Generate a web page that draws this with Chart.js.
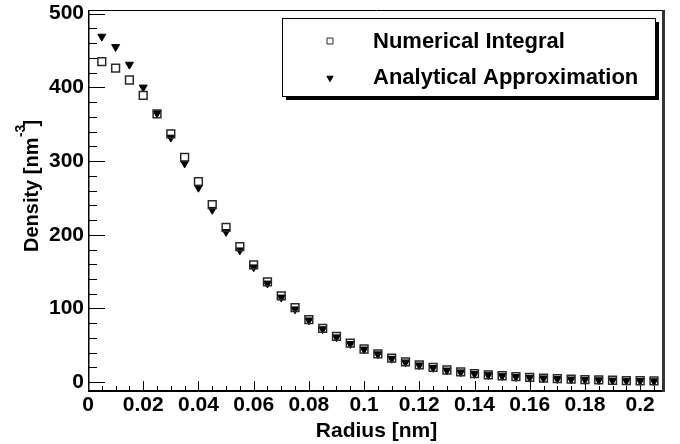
<!DOCTYPE html>
<html>
<head>
<meta charset="utf-8">
<script src="https://cdn.jsdelivr.net/npm/chart.js@4.4.1/dist/chart.umd.min.js"></script>
<style>
html,body{margin:0;padding:0;background:#fff;}
#c{display:block;}
</style>
</head>
<body>
<canvas id="c" width="680" height="444"></canvas>
<script>
// ---- data ----
const radius = [0.005,0.010,0.015,0.020,0.025,0.030,0.035,0.040,0.045,0.050,
                0.055,0.060,0.065,0.070,0.075,0.080,0.085,0.090,0.095,0.100,
                0.105,0.110,0.115,0.120,0.125,0.130,0.135,0.140,0.145,0.150,
                0.155,0.160,0.165,0.170,0.175,0.180,0.185,0.190,0.195,0.200,0.205];
const numericalIntegral = [435,426,410,389,364,337,305,272,241,210,
                           184,159,136,117,101,85,73,62,53,45,
                           38.5,32.5,27.5,23.5,20,16.5,14,11.5,10,8.7,
                           7.5,6.5,5.6,4.8,4.1,3.5,3.0,2.6,2.2,1.9,1.6];
const analyticalApprox = [469,455,431,400,365,332,297,264,234,204,
                          179,156,134,115,99,84,72,61,52,44.5,
                          38,32,27,23,19.5,16,13.5,11.3,9.7,8.4,
                          7.2,6.2,5.3,4.5,3.9,3.3,2.8,2.4,2.0,1.7,1.4];
const seriesNames = ['Numerical Integral', 'Analytical Approximation'];
const xTickValues = [0,0.02,0.04,0.06,0.08,0.1,0.12,0.14,0.16,0.18,0.2];
const xTickLabels = ['0','0.02','0.04','0.06','0.08','0.1','0.12','0.14','0.16','0.18','0.2'];
const yTickValues = [0,100,200,300,400,500];
const yTickLabels = ['0','100','200','300','400','500'];
const xTitle = 'Radius [nm]';
const yTitleParts = ['Density [nm', '-3', ']'];

const FONT = '"Liberation Sans", Arial, Helvetica, sans-serif';

const toPoints = (xs, ys) => xs.map((v, i) => ({x: v, y: ys[i]}));

// frame + inward ticks (ROOT style)
const frameAndTicks = {
  id: 'frameAndTicks',
  beforeDatasetsDraw(chart) {
    const {ctx, chartArea: a, scales: {x, y}} = chart;
    ctx.save();
    ctx.strokeStyle = '#000';
    ctx.lineWidth = 1;
    ctx.beginPath();
    const xMinorStep = 0.005, yMinorStep = 20;
    for (let i = 0; i * xMinorStep <= x.max + 1e-9; i++) {
      const v = i * xMinorStep;
      const px = Math.round(x.getPixelForValue(v)) + 0.5;
      const major = i % 4 === 0;
      ctx.moveTo(px, a.bottom);
      ctx.lineTo(px, a.bottom - (major ? 10 : 5));
    }
    for (let i = 0; i * yMinorStep <= y.max + 1e-9; i++) {
      const v = i * yMinorStep;
      const py = Math.round(y.getPixelForValue(v)) + 0.5;
      const major = i % 5 === 0;
      ctx.moveTo(a.left, py);
      ctx.lineTo(a.left + (major ? 17 : 9), py);
    }
    ctx.stroke();
    // frame
    ctx.lineWidth = 1;
    ctx.beginPath();
    ctx.moveTo(a.left, a.top + 0.5); ctx.lineTo(a.right, a.top + 0.5);
    ctx.stroke();
    ctx.lineWidth = 1.5;
    ctx.beginPath();
    ctx.moveTo(a.left + 0.75, a.top); ctx.lineTo(a.left + 0.75, a.bottom + 1);
    ctx.stroke();
    ctx.lineWidth = 2;
    ctx.beginPath();
    ctx.moveTo(a.left, a.bottom); ctx.lineTo(a.right, a.bottom);
    ctx.stroke();
    ctx.lineWidth = 3;
    ctx.strokeStyle = '#333';
    ctx.beginPath();
    ctx.moveTo(a.right - 1.5, a.top); ctx.lineTo(a.right - 1.5, a.bottom + 1);
    ctx.stroke();
    ctx.restore();
  }
};

// y title with superscript
const yTitlePlugin = {
  id: 'yTitlePlugin',
  afterDraw(chart) {
    const ctx = chart.ctx;
    ctx.save();
    ctx.translate(38, 252);
    ctx.rotate(-Math.PI / 2);
    ctx.fillStyle = '#000';
    ctx.textBaseline = 'alphabetic';
    ctx.textAlign = 'left';
    ctx.font = 'bold 20px ' + FONT;
    ctx.fillText(yTitleParts[0], 0, 0);
    const w0 = ctx.measureText(yTitleParts[0]).width;
    ctx.font = 'bold 14px ' + FONT;
    ctx.fillText(yTitleParts[1], w0 + 0.5, -13);
    const w1 = ctx.measureText(yTitleParts[1]).width;
    ctx.font = 'bold 20px ' + FONT;
    ctx.fillText(yTitleParts[2], w0 + w1 - 1.5, 0);
    ctx.restore();
  }
};

// ROOT-like legend box with shadow
const legendBox = {
  id: 'legendBox',
  afterDraw(chart) {
    const ctx = chart.ctx;
    const bx = 282, by = 18, bw = 373, bh = 78, sh = 4;
    ctx.save();
    ctx.fillStyle = '#000';
    ctx.fillRect(bx + sh, by + sh, bw, bh);
    ctx.fillStyle = '#fff';
    ctx.fillRect(bx, by, bw, bh);
    ctx.strokeStyle = '#000';
    ctx.lineWidth = 1;
    ctx.strokeRect(bx + 0.5, by + 0.5, bw, bh);
    const rows = [{y: 41, base: 47.5}, {y: 78, base: 84}];
    chart.data.datasets.forEach((ds, i) => {
      ctx.fillStyle = ds.backgroundColor;
      ctx.strokeStyle = ds.borderColor;
      ctx.lineWidth = 1;
      Chart.helpers.drawPoint(ctx, {
        pointStyle: ds.pointStyle,
        rotation: ds.rotation || 0,
        radius: i === 0 ? 4.2 : 3.6,
        borderWidth: 1
      }, 330, rows[i].y);
      ctx.fillStyle = '#000';
      ctx.font = 'bold 22px ' + FONT;
      ctx.textBaseline = 'alphabetic';
      ctx.textAlign = 'left';
      ctx.fillText(ds.label, 373, rows[i].base);
    });
    ctx.restore();
  }
};

new Chart(document.getElementById('c'), {
  type: 'scatter',
  data: {
    datasets: [
      {
        label: seriesNames[0],
        data: toPoints(radius, numericalIntegral),
        pointStyle: 'rect',
        pointRadius: 5.5,
        pointHoverRadius: 5.5,
        borderWidth: 1.5,
        borderColor: '#2a2a2a',
        backgroundColor: 'rgba(255,255,255,0)',
        showLine: false
      },
      {
        label: seriesNames[1],
        data: toPoints(radius, analyticalApprox),
        pointStyle: 'triangle',
        rotation: 180,
        pointRotation: 180,
        pointRadius: 4.6,
        pointHoverRadius: 4.6,
        borderWidth: 1,
        borderColor: '#000',
        backgroundColor: '#000',
        showLine: false
      }
    ]
  },
  options: {
    responsive: false,
    maintainAspectRatio: false,
    devicePixelRatio: 1,
    animation: false,
    events: [],
    layout: {padding: {top: 10, right: 15, left: 0, bottom: 0}},
    plugins: {
      legend: {display: false},
      tooltip: {enabled: false},
      title: {display: false}
    },
    scales: {
      x: {
        type: 'linear',
        min: 0,
        max: 0.209,
        grid: {display: false, drawTicks: false},
        border: {display: false},
        afterBuildTicks: s => { s.ticks = xTickValues.map(v => ({value: v})); },
        afterFit: s => { s.height = 53; s.paddingLeft = 0; s.paddingRight = 0; },
        ticks: {
          autoSkip: false,
          maxRotation: 0,
          padding: 2,
          color: '#000',
          font: {family: FONT, size: 21, weight: 'bold'},
          callback: (v, i) => xTickLabels[i]
        },
        title: {
          display: true,
          text: xTitle,
          color: '#000',
          font: {family: FONT, size: 21, weight: 'bold'},
          padding: {top: 0, bottom: 0}
        }
      },
      y: {
        type: 'linear',
        min: -12,
        max: 505,
        grid: {display: false, drawTicks: false},
        border: {display: false},
        afterBuildTicks: s => { s.ticks = yTickValues.map(v => ({value: v})); },
        afterFit: s => { s.width = 88; s.paddingTop = 0; s.paddingBottom = 0; },
        ticks: {
          autoSkip: false,
          padding: 4,
          color: '#000',
          font: {family: FONT, size: 21, weight: 'bold'},
          callback: (v, i) => yTickLabels[i]
        }
      }
    }
  },
  plugins: [frameAndTicks, yTitlePlugin, legendBox]
});
</script>
</body>
</html>
